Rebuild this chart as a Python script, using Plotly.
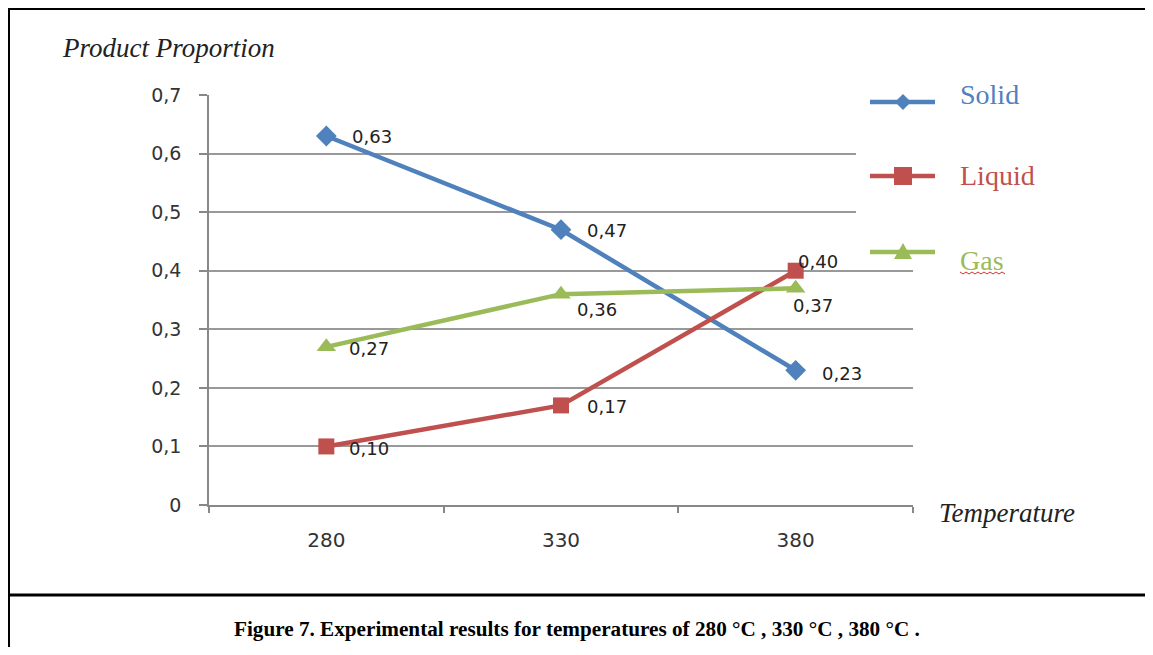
import plotly.graph_objects as go

# ---------------- data ----------------
temperatures = ["280", "330", "380"]
solid = [0.63, 0.47, 0.23]
liquid = [0.10, 0.17, 0.40]
gas = [0.27, 0.36, 0.37]

series_names = ["Solid", "Liquid", "Gas"]
y_title = "Product Proportion"
x_title = "Temperature"
caption = "Figure 7. Experimental results for temperatures of 280 °C , 330 °C , 380 °C ."

# ---------------- styles ----------------
colors = ["#4F81BD", "#C0504D", "#9BBB59"]
symbols = ["diamond", "square", "triangle-up"]
marker_sizes = [16, 16, 17]
# data-label offsets in pixels (dx, dy) per series per point
label_offsets = [
    [(24, 0), (24, -1), (24, -3)],
    [(21, -2), (24, -1), (0, 9)],
    [(21, -2), (14, -15), (-5, -17)],
]

# page geometry (browser body has an 8px margin on every side)
OFF = 8
PAGE_W, PAGE_H = 1153, 655
W, H = PAGE_W - 2 * OFF, PAGE_H - 2 * OFF
PL, PR, PT, PB = 209, 913, 95, 505          # plot area in page pixels
PW, PH = PR - PL, PB - PT


def fx(px):
    return (px - PL) / PW


def fy(py):
    return (PB - py) / PH


values = [solid, liquid, gas]
fig = go.Figure()
annotations = []
for name, vals, col, sym, ms, offs in zip(series_names, values, colors, symbols, marker_sizes, label_offsets):
    fig.add_trace(go.Scatter(
        x=temperatures, y=vals, name=name, mode="lines+markers",
        line=dict(color=col, width=4.5),
        marker=dict(symbol=sym, size=ms, color=col),
        showlegend=False,
    ))
    for i, (yv, (dx, dy)) in enumerate(zip(vals, offs)):
        annotations.append(dict(
            x=i, y=yv, xref="x", yref="y", text=f"{yv:.2f}".replace(".", ","),
            showarrow=False, xanchor="left", yanchor="middle", xshift=dx, yshift=dy,
            font=dict(family="DejaVu Sans", size=18, color="#222222"),
        ))

# axis titles and caption
annotations.append(dict(x=fx(60), y=fy(48), xref="paper", yref="paper", text=y_title,
                        showarrow=False, xanchor="left", yanchor="middle",
                        font=dict(family="Liberation Serif", size=27, color="#222222", style="italic")))
annotations.append(dict(x=fx(937), y=fy(513), xref="paper", yref="paper", text=x_title,
                        showarrow=False, xanchor="left", yanchor="middle",
                        font=dict(family="Liberation Serif", size=27, color="#222222", style="italic")))
annotations.append(dict(x=fx(577), y=fy(629), xref="paper", yref="paper", text="<b>" + caption + "</b>",
                        showarrow=False, xanchor="center", yanchor="middle",
                        font=dict(family="Liberation Serif", size=21.2, color="#000000")))

shapes = []
# white legend background covering gridlines
shapes.append(dict(type="rect", xref="paper", yref="paper", x0=fx(856), x1=fx(918), y0=fy(80), y1=fy(262),
                   fillcolor="white", line=dict(width=0), layer="above"))

# manual legend
legend_line_y = [102, 176, 252]
legend_text_y = [94, 175, 260]
marker_paths = [
    "M -8 0 L 0 8 L 8 0 L 0 -8 Z",
    "M -9 -9 L 9 -9 L 9 9 L -9 9 Z",
    "M -9 -7 L 9 -7 L 0 9 Z",
]
for name, col, ly, ty, mp in zip(series_names, colors, legend_line_y, legend_text_y, marker_paths):
    shapes.append(dict(type="line", xref="paper", yref="paper", x0=fx(870), x1=fx(935), y0=fy(ly), y1=fy(ly),
                       line=dict(color=col, width=4.5)))
    shapes.append(dict(type="path", xref="paper", yref="paper", xsizemode="pixel", ysizemode="pixel",
                       xanchor=fx(903), yanchor=fy(ly), path=mp, fillcolor=col, line=dict(width=0)))
    annotations.append(dict(x=fx(958), y=fy(ty), xref="paper", yref="paper", text=name,
                            showarrow=False, xanchor="left", yanchor="middle",
                            font=dict(family="Liberation Serif", size=28, color=col)))

# spell-check wavy underline under "Gas"
zig = "M 0 0 " + " ".join(f"L {3 * i} {(-2 if i % 2 else 0)}" for i in range(1, 16))
shapes.append(dict(type="path", xref="paper", yref="paper", xsizemode="pixel", ysizemode="pixel",
                   xanchor=fx(960), yanchor=fy(272), path=zig, line=dict(color="#D03030", width=1)))

# frame: left border, top line and caption separator (open on the right)
shapes.append(dict(type="line", xref="paper", yref="paper", x0=fx(9), x1=fx(9), y0=fy(8), y1=fy(700),
                   line=dict(color="black", width=2)))
shapes.append(dict(type="line", xref="paper", yref="paper", x0=fx(8), x1=fx(1170), y0=fy(9), y1=fy(9),
                   line=dict(color="black", width=2)))
shapes.append(dict(type="line", xref="paper", yref="paper", x0=fx(8), x1=fx(1170), y0=fy(595), y1=fy(595),
                   line=dict(color="black", width=3)))

fig.update_layout(
    width=W, height=H,
    margin=dict(l=PL - OFF, r=W + OFF - PR, t=PT - OFF, b=H + OFF - PB, autoexpand=False),
    paper_bgcolor="white", plot_bgcolor="white",
    separators=",.",
    annotations=annotations, shapes=shapes,
    showlegend=False,
)
fig.update_xaxes(
    type="category", range=[-0.5, 2.5], showgrid=False, zeroline=False,
    showline=True, linecolor="#888888", linewidth=1.5,
    ticks="outside", tickson="boundaries", ticklen=6, tickcolor="#888888", tickwidth=1.5,
    tickfont=dict(family="DejaVu Sans", size=20, color="#333333"), ticklabelstandoff=16,
)
fig.update_yaxes(
    range=[0, 0.7], dtick=0.1, tick0=0, showgrid=True, gridcolor="#999999", gridwidth=1.5,
    zeroline=False, showline=True, linecolor="#888888", linewidth=1.5,
    ticks="outside", ticklen=8, tickcolor="#888888", tickwidth=1.5,
    tickfont=dict(family="DejaVu Sans", size=19, color="#333333"), ticklabelstandoff=14,
)

fig.write_html("out.html")
